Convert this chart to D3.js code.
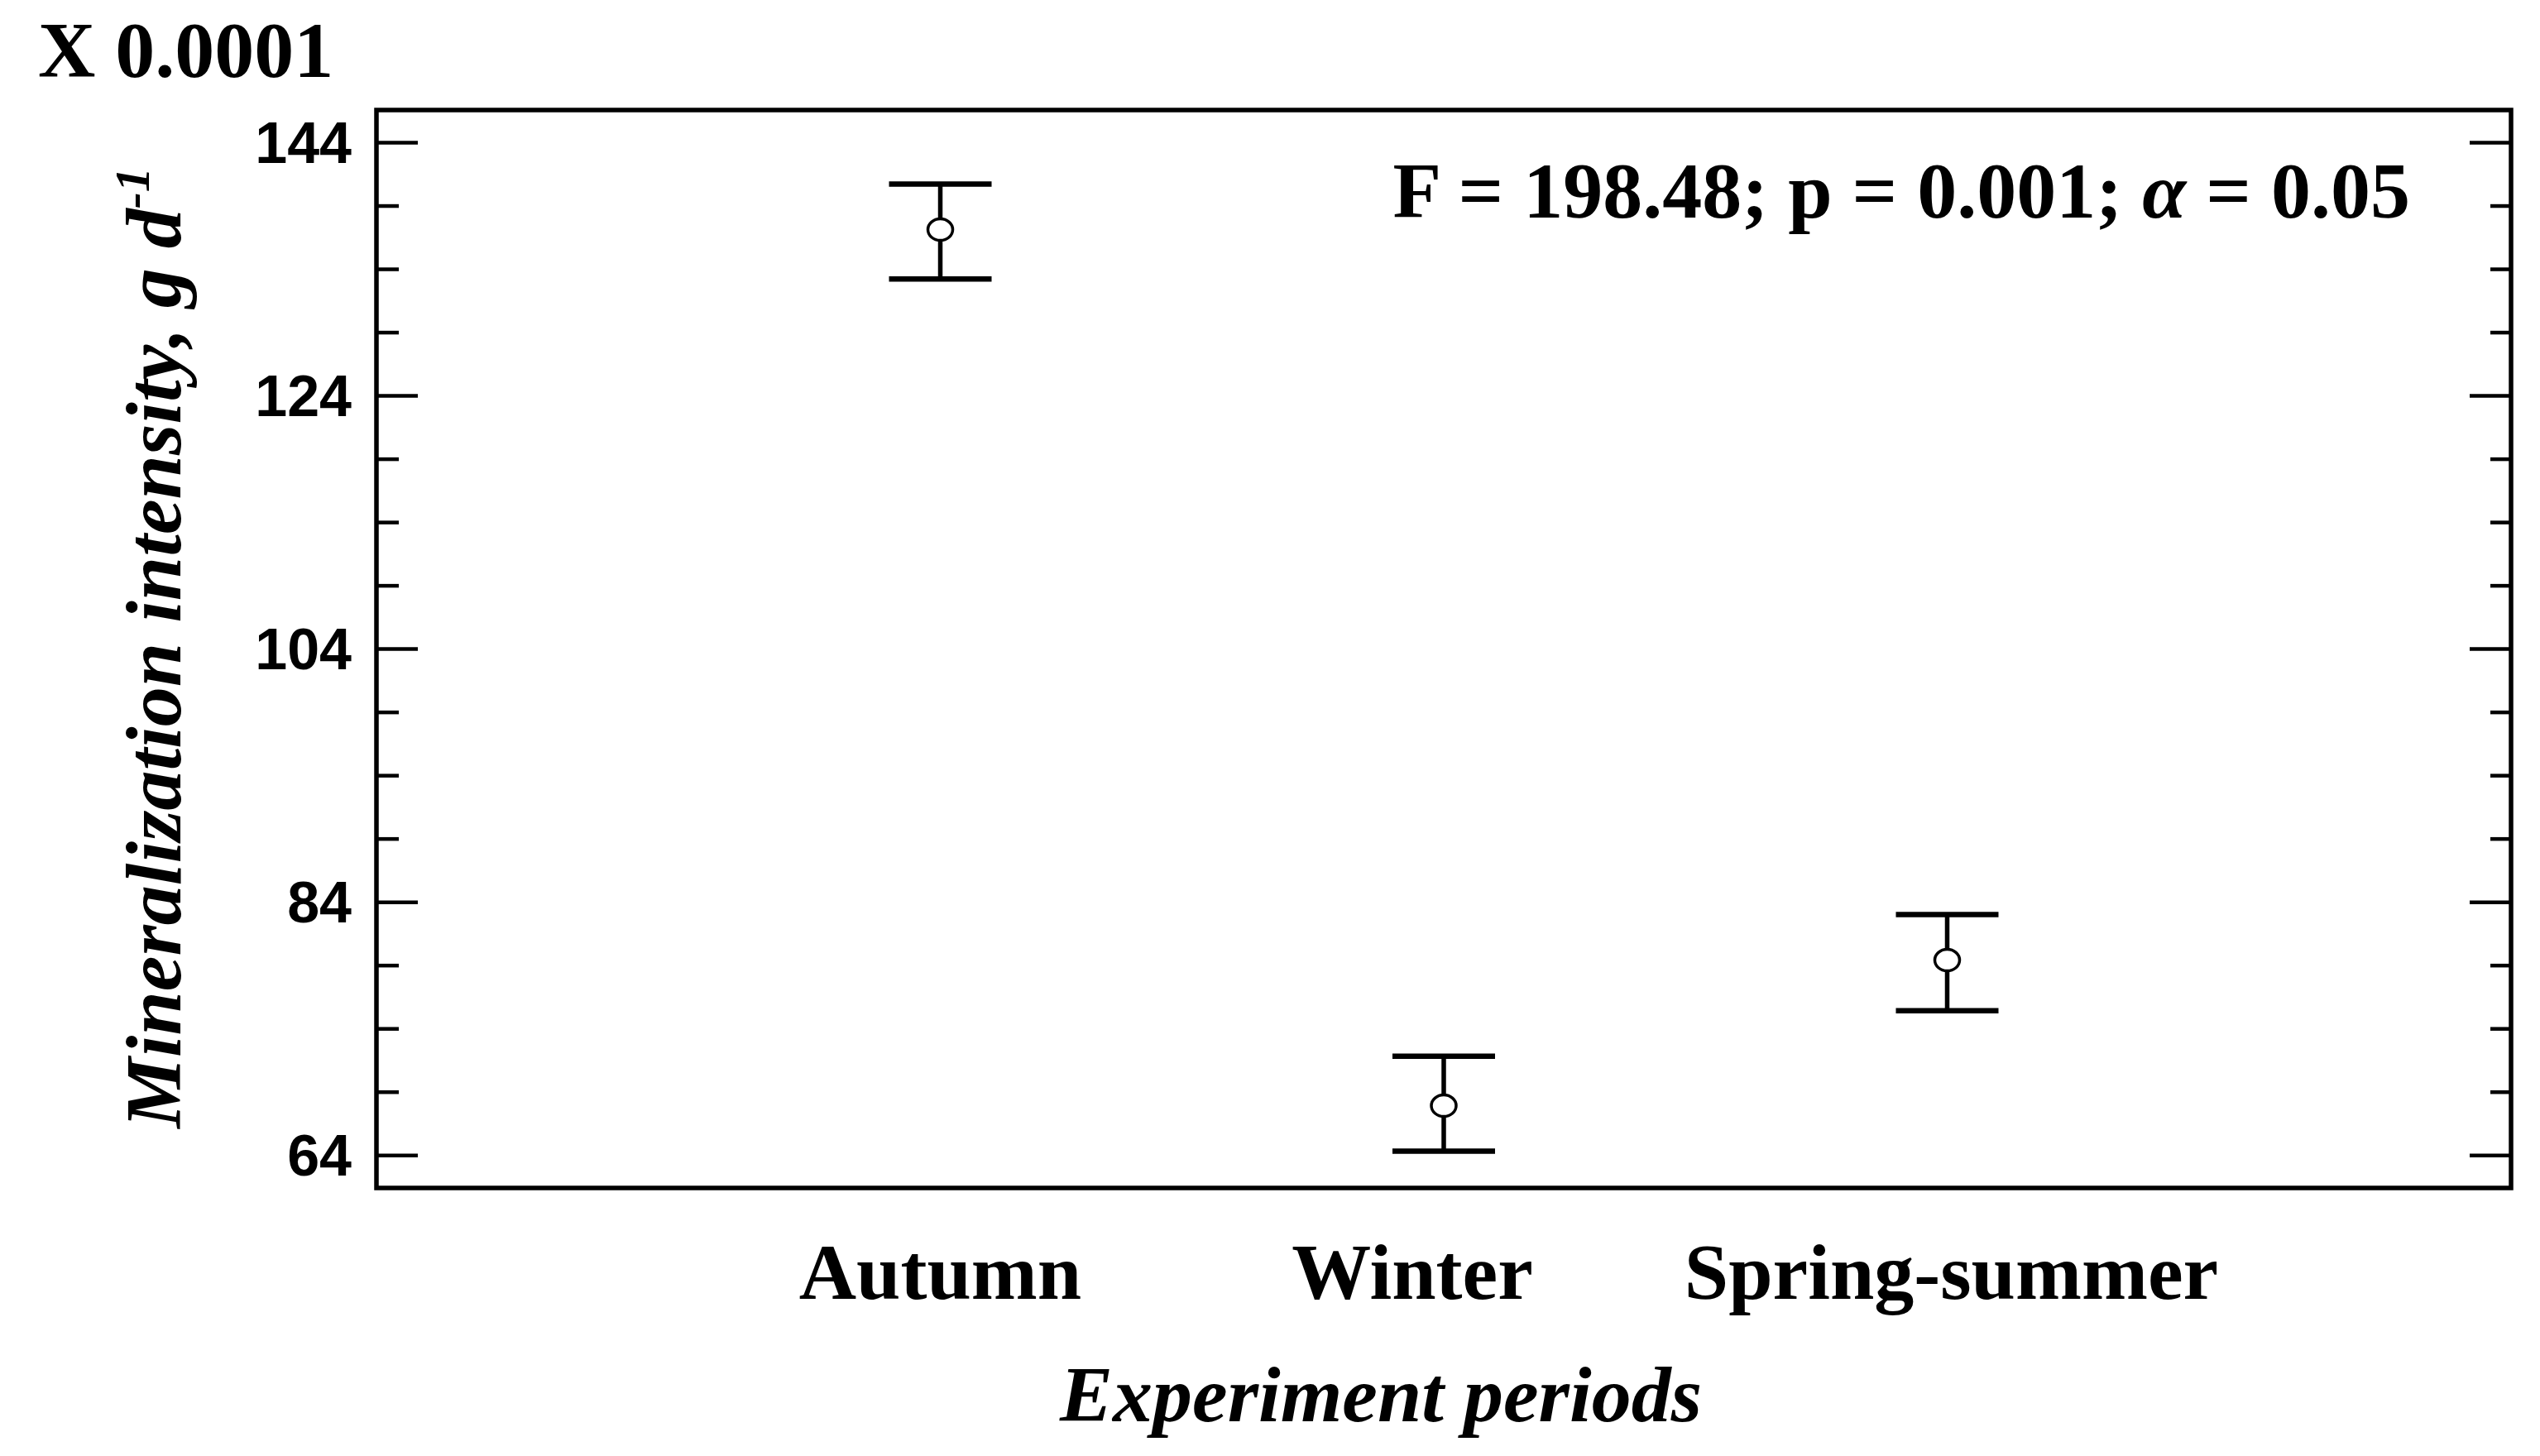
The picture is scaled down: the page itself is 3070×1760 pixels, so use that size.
<!DOCTYPE html>
<html>
<head>
<meta charset="utf-8">
<script src="https://cdn.jsdelivr.net/npm/d3@7"></script>
<style>
  html, body { margin: 0; padding: 0; background: #fff; }
  svg { display: block; }
</style>
</head>
<body>
<script>
// ---- data ----
const categories = ["Autumn", "Winter", "Spring-summer"];
const means = [137.1, 67.9, 79.4];
const lower = [133.2, 64.3, 75.4];
const upper = [140.7, 71.8, 83.0];
const majorTicks = [64, 84, 104, 124, 144];
const minorTicks = [69, 74, 79, 89, 94, 99, 109, 114, 119, 129, 134, 139];
const scaleNote = "X 0.0001";
const statsText = ["F = 198.48; p = 0.001; ", "α", " = 0.05"];
const yTitle = "Mineralization intensity, g d";
const yTitleSup = "-1";
const xTitle = "Experiment periods";

(function () {
// ---- layout ----
const W = 3070, H = 1760;
const pL = 455, pR = 3035, pT = 133, pB = 1436;
const serif = "'Liberation Serif', 'Times New Roman', serif";
const sans = "'Liberation Sans', Arial, sans-serif";
const labelShift = { "Autumn": 0, "Winter": -38, "Spring-summer": 5 };

const svg = d3.select("body").append("svg").attr("width", W).attr("height", H);
svg.append("rect").attr("width", W).attr("height", H).attr("fill", "#fff");

const x = d3.scalePoint().domain(categories).range([pL, pR]).padding(1.12);
const y = d3.scaleLinear().domain([61.4, 146.55]).range([pB, pT]);

// frame
svg.append("rect")
  .attr("x", pL).attr("y", pT)
  .attr("width", pR - pL).attr("height", pB - pT)
  .attr("fill", "none").attr("stroke", "#000").attr("stroke-width", 5.5);

// left axis (ticks inward)
const gL = svg.append("g").attr("transform", `translate(${pL},0)`);
gL.append("g").call(d3.axisRight(y).tickValues(majorTicks).tickSize(50).tickFormat(""))
  .call(g => g.select(".domain").remove())
  .call(g => g.selectAll("line").attr("stroke", "#000").attr("stroke-width", 4.5));
gL.append("g").call(d3.axisRight(y).tickValues(minorTicks).tickSize(27).tickFormat(""))
  .call(g => g.select(".domain").remove())
  .call(g => g.selectAll("line").attr("stroke", "#000").attr("stroke-width", 4.5));
// left labels
svg.append("g").selectAll("text").data(majorTicks).join("text")
  .attr("x", pL - 30).attr("y", d => y(d)).attr("dy", "0.36em")
  .attr("text-anchor", "end")
  .attr("font-family", sans).attr("font-weight", "bold").attr("font-size", 70)
  .attr("fill", "#000")
  .text(d => d);

// right axis (ticks inward)
const gR = svg.append("g").attr("transform", `translate(${pR},0)`);
gR.append("g").call(d3.axisLeft(y).tickValues(majorTicks).tickSize(50).tickFormat(""))
  .call(g => g.select(".domain").remove())
  .call(g => g.selectAll("line").attr("stroke", "#000").attr("stroke-width", 4.5));
gR.append("g").call(d3.axisLeft(y).tickValues(minorTicks).tickSize(25).tickFormat(""))
  .call(g => g.select(".domain").remove())
  .call(g => g.selectAll("line").attr("stroke", "#000").attr("stroke-width", 4.5));

// error bars
const capHalf = 62;
const bars = svg.append("g").selectAll("g").data(categories).join("g");
bars.append("line")
  .attr("x1", d => x(d)).attr("x2", d => x(d))
  .attr("y1", (d, i) => y(upper[i])).attr("y2", (d, i) => y(lower[i]))
  .attr("stroke", "#000").attr("stroke-width", 5.5);
bars.append("line")
  .attr("x1", d => x(d) - capHalf).attr("x2", d => x(d) + capHalf)
  .attr("y1", (d, i) => y(upper[i])).attr("y2", (d, i) => y(upper[i]))
  .attr("stroke", "#000").attr("stroke-width", 6.5);
bars.append("line")
  .attr("x1", d => x(d) - capHalf).attr("x2", d => x(d) + capHalf)
  .attr("y1", (d, i) => y(lower[i])).attr("y2", (d, i) => y(lower[i]))
  .attr("stroke", "#000").attr("stroke-width", 6.5);
bars.append("ellipse")
  .attr("cx", d => x(d)).attr("cy", (d, i) => y(means[i]))
  .attr("rx", 15).attr("ry", 13)
  .attr("fill", "#fff").attr("stroke", "#000").attr("stroke-width", 3.5);

// category labels
svg.append("g").selectAll("text").data(categories).join("text")
  .attr("x", d => x(d) + labelShift[d]).attr("y", 1570)
  .attr("text-anchor", "middle")
  .attr("font-family", serif).attr("font-weight", "bold").attr("font-size", 96)
  .attr("fill", "#000")
  .text(d => d);

// x title
svg.append("text")
  .attr("x", 1669).attr("y", 1718)
  .attr("text-anchor", "middle")
  .attr("font-family", serif).attr("font-weight", "bold").attr("font-style", "italic")
  .attr("font-size", 96).attr("fill", "#000")
  .text(xTitle);

// y title
const yt = svg.append("text")
  .attr("transform", "translate(218,783) rotate(-90)")
  .attr("text-anchor", "middle")
  .attr("font-family", serif).attr("font-weight", "bold").attr("font-style", "italic")
  .attr("font-size", 96).attr("fill", "#000");
yt.append("tspan").text(yTitle);
yt.append("tspan").attr("dy", -38).attr("font-size", 60).text(yTitleSup);

// scale note
svg.append("text")
  .attr("x", 46).attr("y", 93)
  .attr("font-family", serif).attr("font-weight", "bold").attr("font-size", 96)
  .attr("fill", "#000")
  .text(scaleNote);

// stats annotation
const st = svg.append("text")
  .attr("x", 2913).attr("y", 263)
  .attr("text-anchor", "end")
  .attr("font-family", serif).attr("font-weight", "bold").attr("font-size", 96)
  .attr("fill", "#000");
st.append("tspan").text(statsText[0]);
st.append("tspan").attr("font-style", "italic").text(statsText[1]);
st.append("tspan").text(statsText[2]);
})();
</script>
</body>
</html>
